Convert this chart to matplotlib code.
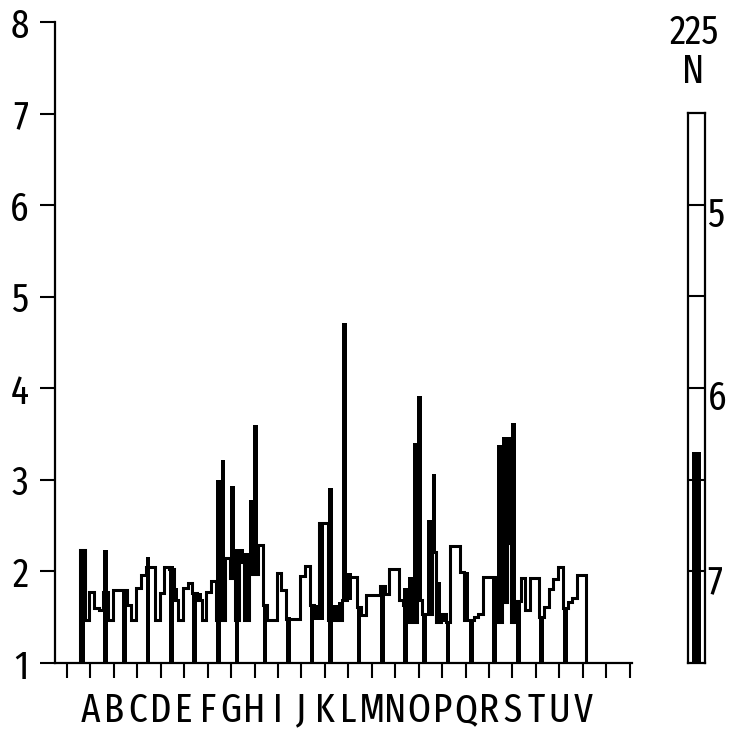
import numpy as np
import matplotlib
matplotlib.use("Agg")
import matplotlib.pyplot as plt
from matplotlib import font_manager

# ---------------- data ----------------
categories = list("ABCDEFGHIJKLMNOPQRSTUV")

# height of the white stepped series, one value per narrow column (5 columns per category)
white_top = [
    2.23, 1.47, 1.78, 1.60, 1.58,
    1.78, 1.47, 1.80, 1.80, 1.80,
    1.63, 1.47, 1.82, 1.96, 2.05,
    2.05, 1.47, 1.76, 2.05, 2.03,
    1.69, 1.47, 1.82, 1.87, 1.76,
    1.69, 1.47, 1.77, 1.90, 1.47,
    1.47, 2.15, 1.93, 1.47, 2.10,
    1.47, 1.97, 1.97, 2.29, 1.63,
    1.47, 1.47, 1.98, 1.80, 1.48,
    1.48, 1.48, 1.95, 2.06, 1.63,
    1.54, 2.53, 2.53, 1.47, 1.47,
    1.47, 1.69, 1.94, 1.94, 1.61,
    1.52, 1.74, 1.74, 1.74, 1.84,
    1.75, 2.03, 2.03, 1.69, 1.63,
    1.45, 1.45, 1.69, 1.54, 1.54,
    2.21, 1.45, 1.54, 1.45, 2.28,
    2.28, 1.99, 1.47, 1.47, 1.50,
    1.54, 1.94, 1.94, 1.94, 1.45,
    1.67, 2.31, 1.45, 1.68, 1.93,
    1.58, 1.93, 1.93, 1.50, 1.61,
    1.81, 1.92, 2.05, 1.60, 1.67,
    1.71, 1.96, 1.96,
]

# black bars per column: lower and upper end (None = no black bar)
N = None
black_lo = [
    1.00, N, N, N, N,
    1.00, N, N, N, 1.00,
    N, N, N, N, 1.00,
    N, N, N, N, 1.00,
    1.69, N, N, N, 1.00,
    1.69, N, N, N, 1.00,
    1.47, N, 1.93, 1.00, 2.10,
    1.47, 1.97, 1.97, N, 1.00,
    N, N, N, N, 1.00,
    N, N, N, N, 1.00,
    1.47, 1.47, N, 1.00, 1.47,
    1.47, 1.69, 1.69, N, 1.00,
    N, N, N, N, 1.00,
    N, N, N, N, 1.00,
    1.45, 1.45, 1.69, 1.00, 1.54,
    2.21, 1.45, 1.45, 1.00, N,
    N, N, 1.47, 1.00, N,
    N, N, N, 1.00, 1.45,
    1.67, 2.31, 1.45, 1.00, N,
    N, N, N, 1.00, N,
    N, N, N, 1.00, N,
    N, N, N,
]
black_hi = [
    2.23, N, N, N, N,
    2.23, N, N, N, 1.80,
    N, N, N, N, 2.16,
    N, N, N, N, 2.06,
    1.82, N, N, N, 1.78,
    1.76, N, N, N, 3.00,
    3.22, N, 2.93, 2.25, 2.25,
    2.20, 2.78, 3.60, N, 1.63,
    N, N, N, N, 1.50,
    N, N, N, N, 1.63,
    1.63, 2.53, N, 2.91, 1.63,
    1.67, 4.71, 1.98, N, 1.61,
    N, N, N, N, 1.84,
    N, N, N, N, 1.82,
    1.94, 3.40, 3.92, 1.54, 2.56,
    3.06, 1.88, 1.54, 1.45, N,
    N, N, 1.99, 1.47, N,
    N, N, N, 1.94, 3.38,
    3.47, 3.47, 3.62, 1.68, N,
    N, N, N, 1.50, N,
    N, N, N, 1.60, N,
    N, N, N,
]

legend_title = "225"
legend_unit = "N"
legend_labels = [5, 6, 7]
legend_value = 6.35

# ---------------- fonts: look for a narrow face file ----------------
def is_regular(f):
    return f.style == "normal" and str(f.weight) in ("400", "normal", "regular", "book")

def pick_font():
    entries = [f for f in font_manager.fontManager.ttflist if is_regular(f)]
    def clean(fn):
        return not any(k in fn for k in ("bold", "oblique", "italic", "mono", "light", "thin"))
    for key in ("liberationsansnarrow", "extracondensed", "narrow"):
        for f in entries:
            fn = f.fname.lower().replace("-", "").replace("_", "")
            if key in fn and clean(fn):
                return f.fname, 29
    for f in entries:
        fn = f.fname.lower().replace("-", "").replace("_", "")
        if "condensed" in fn and "semicondensed" not in fn and "dejavu" not in fn and clean(fn):
            return f.fname, 29
    for f in entries:
        if f.name == "DejaVu Sans Mono":
            return f.fname, 24
    return None, 24

fpath, FS = pick_font()
if fpath:
    fp = font_manager.FontProperties(fname=fpath, size=FS)
else:
    fp = font_manager.FontProperties(family="DejaVu Sans", size=FS)

# ---------------- figure ----------------
W, H = 729, 730
fig = plt.figure(figsize=(W / 100, H / 100), dpi=100)
ax = fig.add_axes([55 / W, (H - 663) / H, (632 - 55) / W, (663 - 22) / H])

cols_per_cat = 5
col_w = 1.0 / cols_per_cat
col_offset = 0.55
n = len(white_top)
edges = col_offset + col_w * np.arange(n + 1)
centers = 0.5 * (edges[:-1] + edges[1:])

wt = np.array(white_top, dtype=float)
ax.stairs(wt, edges, baseline=1, fill=True, color="white", zorder=1)

lo = np.array([np.nan if v is None else v for v in black_lo])
hi = np.array([np.nan if v is None else v for v in black_hi])
m = ~np.isnan(lo)
ax.bar(centers[m], hi[m] - lo[m], bottom=lo[m], width=col_w,
       color="black", linewidth=0, zorder=2)
ax.stairs(wt, edges, baseline=1, fill=False, color="black", lw=2.2, zorder=3)

ax.set_xlim(-0.51, 24.1)
ax.set_ylim(1, 8)
ax.set_yticks(range(1, 9))
ax.set_yticklabels([str(v) for v in range(1, 9)], fontproperties=fp)
ax.set_xticks(range(25))
ax.set_xticklabels([""] + categories + ["", ""], fontproperties=fp)
for s in ["top", "right"]:
    ax.spines[s].set_visible(False)
for s in ["left", "bottom"]:
    ax.spines[s].set_linewidth(1.6)
ax.tick_params(axis="both", direction="out", length=11, width=1.5, color="black")
ax.tick_params(axis="y", pad=8)
ax.tick_params(axis="x", pad=9)
ax.set_facecolor("white")

# ---------------- legend bar ----------------
lax = fig.add_axes([688 / W, (H - 663) / H, 17 / W, (663 - 113) / H])
lax.set_xlim(0, 1)
lax.set_ylim(7.5, 4.5)
lax.bar(0.5, 7.5 - legend_value, bottom=legend_value, width=0.52,
        color="black", linewidth=0)
lax.hlines([5, 5.5, 6, 6.5, 7], 0, 1, color="black", lw=1.5)
for s in lax.spines.values():
    s.set_linewidth(1.6)
lax.set_xticks([])
lax.set_yticks([])
for v in legend_labels:
    lax.text(1.15, v + 0.06, str(v), transform=lax.get_yaxis_transform(),
             ha="left", va="center", fontproperties=fp)
fig.text(694 / W, 1 - 33 / H, legend_title, ha="center", va="center", fontproperties=fp)
fig.text(693 / W, 1 - 72 / H, legend_unit, ha="center", va="center", fontproperties=fp)

fig.savefig("out.png", dpi=100, facecolor="white")
